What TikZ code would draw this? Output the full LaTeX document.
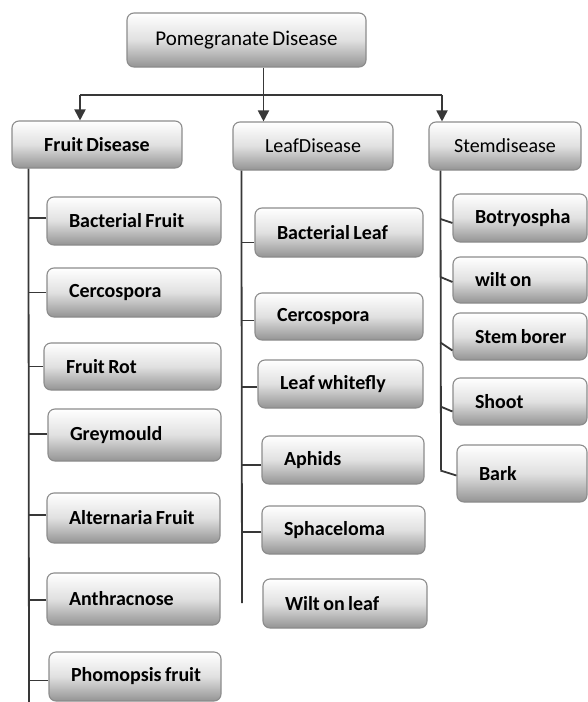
\documentclass[tikz,border=0pt]{standalone}
\usepackage{fontspec}
\setmainfont{Carlito}[WordSpace=0.7]
\usetikzlibrary{arrows.meta,calc}
\tikzset{
  gbox/.style={draw=black!45, line width=1.1pt, rounded corners=7pt,
    top color=white, bottom color=black!42, middle color=black!12,
    text=black, inner ysep=0pt, font=\fontsize{20}{22}\selectfont},
  headbox/.style={gbox, align=center, inner xsep=4pt},
  kidbox/.style={gbox, align=left, inner xsep=22pt, font=\fontsize{20}{22}\selectfont\bfseries},
  conn/.style={draw=black!78, line width=1.8pt},
  arr/.style={conn, -{Triangle[width=11pt,length=11pt]}}
}
\newcommand\pghead[7]{%
  \node[headbox, #2, minimum width={(#5-#3)*1pt}, minimum height={(#6-#4)*1pt}]
    (#1) at ({(#3+#5)/2},{(#4+#6)/2}) {#7};}
\newcommand\pgkid[6]{%
  \pgfmathsetmacro\pgtw{#4-#2-44}%
  \node[kidbox, text width=\pgtw pt, minimum height={(#5-#3)*1pt}]
    (#1) at ({(#2+#4)/2},{(#3+#5)/2}) {\mbox{\spaceskip=0.17em\relax #6}};}
\begin{document}
\begin{tikzpicture}[x=1pt,y=-1pt]
\useasboundingbox[fill=white] (0,0) rectangle (588,702);

% top levels
\pghead{root}{font=\fontsize{21}{23}\selectfont}{127}{13}{366}{67}{Pomegranate Disease}
\pghead{fruit}{font=\fontsize{20}{22}\selectfont\bfseries}{12}{121}{182}{168}{Fruit Disease}
\pghead{leaf}{}{233}{122}{393}{170}{LeafDisease}
\pghead{stem}{}{429}{122}{581}{170}{Stemdisease}

% fruit children
\pgkid{fc1}{47}{197}{221}{245}{Bacterial Fruit}
\pgkid{fc2}{47}{268}{221}{317}{Cercospora}
\pgkid{fc3}{44}{343}{221}{390}{Fruit Rot}
\pgkid{fc4}{48}{409}{221}{461}{Greymould}
\pgkid{fc5}{47}{493}{220}{543}{Alternaria Fruit}
\pgkid{fc6}{47}{573}{220}{625}{Anthracnose}
\pgkid{fc7}{49}{652}{221}{701}{Phomopsis fruit}

% leaf children
\pgkid{lc1}{255}{208}{423}{257}{Bacterial Leaf}
\pgkid{lc2}{255}{293}{423}{340}{Cercospora}
\pgkid{lc3}{258}{360}{423}{408}{Leaf whitefly}
\pgkid{lc4}{262}{436}{424}{484}{Aphids}
\pgkid{lc5}{262}{506}{425}{554}{Sphaceloma}
\pgkid{lc6}{263}{579}{427}{628}{Wilt on leaf}

% stem children
\pgkid{sc1}{453}{194}{587}{242}{Botryospha}
\pgkid{sc2}{453}{257}{587}{303}{wilt on}
\pgkid{sc3}{453}{313}{587}{360}{Stem borer}
\pgkid{sc4}{453}{378}{587}{425}{Shoot}
\pgkid{sc5}{457}{445}{587}{502}{Bark}

% root to level 2
\coordinate (hm) at ($(root.south)+(17,28)$);
\coordinate (hl) at (80,95);
\coordinate (hr) at (442,95);
\draw[conn] ([xshift=17pt]root.south) -- (hm);
\draw[conn] (hl) -- (hr);
\draw[arr] (hl) -- (hl |- fruit.north);
\draw[arr] (hm) -- (hm |- leaf.north);
\draw[arr] (hr) -- (hr |- stem.north);

% fruit bus
\coordinate (fb1) at ([xshift=17pt]fruit.south west);
\coordinate (fb2) at (29,704);
\draw[conn] (fb1) -- (fb2);
\foreach \k/\d in {fc1/3,fc2/0,fc3/0,fc4/1,fc5/3,fc6/-1,fc7/-4}
  \draw[conn] ([yshift=\d pt]\k.west) -- ([yshift=\d pt]\k.west -| fb1);

% leaf bus
\coordinate (lb1) at ([xshift=9pt]leaf.south west);
\coordinate (lb2) at (242,603);
\draw[conn] (lb1) -- (lb2);
\foreach \k/\d in {lc1/-10,lc2/-4,lc3/-3,lc4/-5,lc5/-2}
  \draw[conn] ([yshift=\d pt]\k.west) -- ([yshift=\d pt]\k.west -| lb1);

% stem bus
\coordinate (sb1) at ([xshift=12pt]stem.south west);
\coordinate (sb2) at (441,470);
\draw[conn] (sb1) -- (sb2);
\foreach \k/\a/\b in {sc1/-1/-5,sc2/3/-2,sc3/-6/-14,sc4/-5/-10,sc5/3/-2}
  \draw[conn] ([yshift=\a pt]\k.west -| sb1) -- ([yshift=\b pt]\k.west);
\end{tikzpicture}
\end{document}
